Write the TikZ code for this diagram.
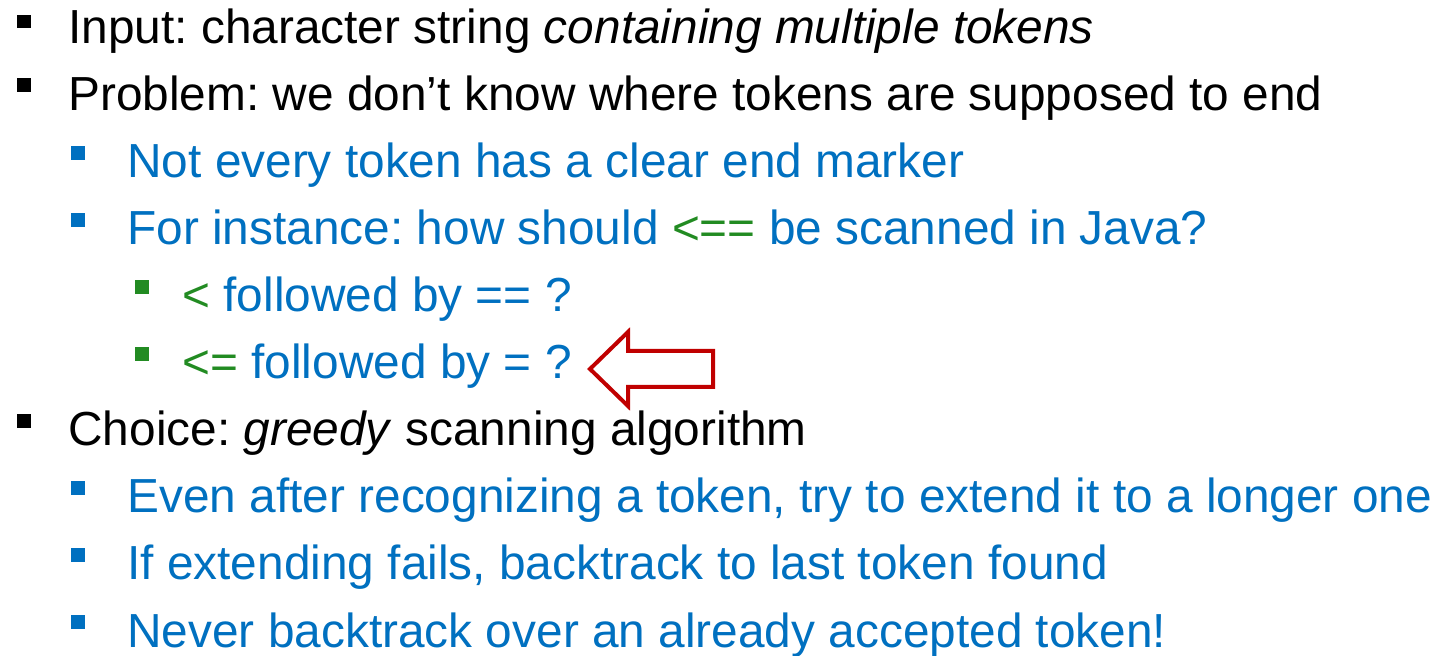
\documentclass[tikz,border=0pt]{standalone}
\usepackage{fontspec}
\setmainfont{Liberation Sans}
\frenchspacing
\definecolor{lvlblue}{HTML}{0070C0}
\definecolor{lvlgreen}{HTML}{228B22}
\definecolor{arrowred}{HTML}{C00000}
\begin{document}
\begin{tikzpicture}[x=0.5pt,y=-0.5pt,
  txt/.style={anchor=base west, inner sep=0pt, font=\fontsize{23.9}{28}\selectfont},
  lone/.style={txt, text=black},
  ltwo/.style={txt, text=lvlblue},
  lthree/.style={txt, text=lvlblue},
  sqone/.style={fill=black},
  sqtwo/.style={fill=lvlblue},
  sqthree/.style={fill=lvlgreen}]
\useasboundingbox (0,0) rectangle (1439,656);

% level-one items
\fill[sqone] (17,15) rectangle (31,28);
\node[lone] (l1) at (68,44) {Input: character string \textit{containing multiple tokens}};
\fill[sqone] (17,78) rectangle (31,92);
\node[lone] (l2) at (68,111) {Problem: we don’t know where tokens are supposed to end};

% level-two items
\fill[sqtwo] (71,146) rectangle (85,160);
\node[ltwo] (l3) at (127,178) {Not every token has a clear end marker};
\fill[sqtwo] (71,213) rectangle (85,227);
\node[ltwo] (l4) at (127,245) {For instance: how should \textcolor{lvlgreen}{<==} be scanned in Java?};

% level-three items
\fill[sqthree] (135,280) rectangle (149,294);
\node[lthree] (l5) at (182,312) {\textcolor{lvlgreen}{<} followed by == ?};
\fill[sqthree] (135,347) rectangle (149,361);
\node[lthree] (l6) at (182,379) {\textcolor{lvlgreen}{<=} followed by = ?};

% block arrow pointing at the greedy choice
\draw[arrowred, line width=2pt, fill=white, line join=miter]
  (590,369) -- (628,332) -- (628,351) -- (713,351) -- (713,387)
  -- (628,387) -- (628,406) -- cycle;

% greedy scanning
\fill[sqone] (17,414) rectangle (31,428);
\node[lone] (l7) at (68,446) {Choice: \textit{greedy} scanning algorithm};
\fill[sqtwo] (71,481) rectangle (85,495);
\node[ltwo] (l8) at (127,513) {Even after recognizing a token, try to extend it to a longer one};
\fill[sqtwo] (71,548) rectangle (85,562);
\node[ltwo] (l9) at (127,580) {If extending fails, backtrack to last token found};
\fill[sqtwo] (71,615) rectangle (85,629);
\node[ltwo] (l10) at (127,647) {Never backtrack over an already accepted token!};
\end{tikzpicture}
\end{document}
